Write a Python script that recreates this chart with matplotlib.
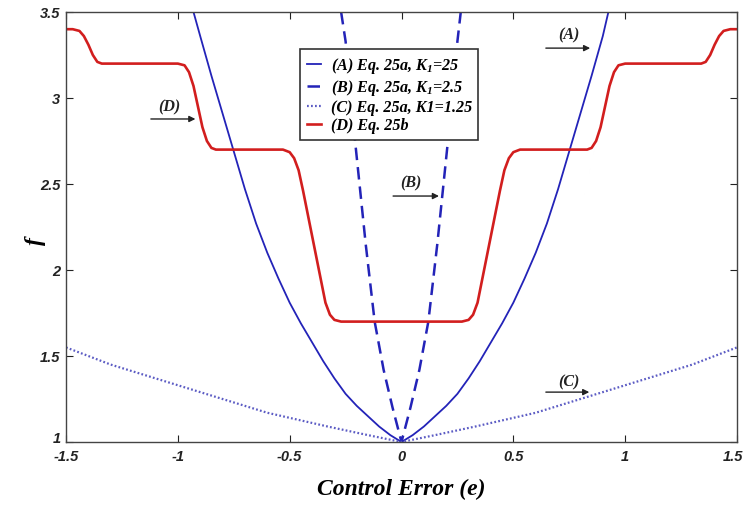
import matplotlib
matplotlib.use("Agg")
import matplotlib.pyplot as plt
from matplotlib.transforms import ScaledTranslation

plt.rcParams['mathtext.fontset'] = 'custom'
plt.rcParams['mathtext.it'] = 'Liberation Serif:italic:bold'
plt.rcParams['mathtext.rm'] = 'Liberation Serif:italic:bold'

# ---- data ----
e_A = [-0.93, -0.90, -0.85, -0.80, -0.75, -0.70, -0.65, -0.60, -0.55, -0.50, -0.45, -0.40, -0.35, -0.30, -0.25, -0.20, -0.15, -0.10, -0.05, 0.0,
       0.05, 0.10, 0.15, 0.20, 0.25, 0.30, 0.35, 0.40, 0.45, 0.50, 0.55, 0.60, 0.65, 0.70, 0.75, 0.80, 0.85, 0.90, 0.925]
f_A = [3.50, 3.36, 3.13, 2.91, 2.69, 2.47, 2.27, 2.10, 1.95, 1.81, 1.69, 1.58, 1.47, 1.37, 1.28, 1.21, 1.15, 1.09, 1.04, 1.00,
       1.04, 1.09, 1.15, 1.21, 1.28, 1.37, 1.47, 1.58, 1.69, 1.81, 1.95, 2.10, 2.27, 2.47, 2.69, 2.91, 3.13, 3.36, 3.50]

e_B = [-0.27, -0.25, -0.21, -0.16, -0.12, -0.08, -0.04, 0.0, 0.04, 0.08, 0.12, 0.16, 0.21, 0.25, 0.265]
f_B = [3.50, 3.33, 2.78, 2.15, 1.70, 1.42, 1.20, 1.00, 1.20, 1.42, 1.70, 2.15, 2.78, 3.33, 3.50]

e_C = [-1.5, -1.3, -1.1, -0.85, -0.6, -0.33, -0.15, 0.0, 0.15, 0.33, 0.6, 0.85, 1.1, 1.3, 1.5]
f_C = [1.55, 1.45, 1.37, 1.27, 1.17, 1.09, 1.04, 1.00, 1.04, 1.09, 1.17, 1.27, 1.37, 1.45, 1.55]

e_D = [-1.50, -1.47, -1.44, -1.42, -1.40, -1.38, -1.36, -1.34, -1.00, -0.97, -0.95, -0.93, -0.91, -0.89, -0.87, -0.85, -0.83,
       -0.53, -0.50, -0.48, -0.46, -0.44, -0.42, -0.40, -0.38, -0.36, -0.34, -0.32, -0.30, -0.27,
       0.27, 0.30, 0.32, 0.34, 0.36, 0.38, 0.40, 0.42, 0.44, 0.46, 0.48, 0.50, 0.53,
       0.83, 0.85, 0.87, 0.89, 0.91, 0.93, 0.95, 0.97, 1.00, 1.34, 1.36, 1.38, 1.40, 1.42, 1.44, 1.47, 1.50]
f_D = [3.40, 3.40, 3.39, 3.36, 3.31, 3.25, 3.21, 3.20, 3.20, 3.19, 3.15, 3.07, 2.95, 2.83, 2.75, 2.71, 2.70,
       2.70, 2.685, 2.65, 2.58, 2.46, 2.33, 2.20, 2.07, 1.94, 1.81, 1.74, 1.71, 1.70,
       1.70, 1.71, 1.74, 1.81, 1.94, 2.07, 2.20, 2.33, 2.46, 2.58, 2.65, 2.685, 2.70,
       2.70, 2.71, 2.75, 2.83, 2.95, 3.07, 3.15, 3.19, 3.20, 3.20, 3.21, 3.25, 3.31, 3.36, 3.39, 3.40, 3.40]

labels = [r"(A) Eq. 25a, K$_1$=25", r"(B) Eq. 25a, K$_1$=2.5", "(C) Eq. 25a, K1=1.25", "(D) Eq. 25b"]
x_ticks = [-1.5, -1, -0.5, 0, 0.5, 1, 1.5]
x_ticklabels = ["-1.5", "-1", "-0.5", "0", "0.5", "1", "1.5"]
y_ticks = [1, 1.5, 2, 2.5, 3, 3.5]
y_ticklabels = ["1", "1.5", "2", "2.5", "3", "3.5"]

# annotations: (label, label_x, label_y, tail_x, head_x, arrow_y)
annots = [("(A)", 0.75, 3.37, 0.633, 0.856, 3.29),
          ("(B)", 0.04, 2.51, -0.05, 0.18, 2.43),
          ("(C)", 0.75, 1.355, 0.633, 0.852, 1.29),
          ("(D)", -1.04, 2.95, -1.133, -0.909, 2.878)]

blue = '#2323b8'
red = '#d21e1e'

fig = plt.figure(figsize=(7.45, 5.06), dpi=100)
ax = fig.add_axes([66 / 745, 1 - 443 / 506, 671 / 745, 430 / 506])

ax.plot(e_A, f_A, color=blue, lw=1.3, label=labels[0])
ax.plot(e_B, f_B, color=blue, lw=1.8, linestyle=(0, (5, 2.8)), label=labels[1])
ax.plot(e_C, f_C, color='#5c5cc4', lw=1.6, linestyle=(0, (0.8, 1.0)), label=labels[2])
ax.plot(e_D, f_D, color=red, lw=1.9, label=labels[3])

for txt, lx, ly, tx, hx, ay in annots:
    ax.annotate("", xy=(hx, ay), xytext=(tx, ay),
                arrowprops=dict(arrowstyle='-|>', color='#222222', lw=1.0, mutation_scale=9))
    ax.text(lx, ly, txt, ha='center', va='center', fontsize=11.5,
            family='Liberation Serif', fontweight='bold', fontstyle='italic', color='#222222')

ax.set_xlim(-1.5, 1.5)
ax.set_ylim(1, 3.5)
ax.set_xticks(x_ticks)
ax.set_xticklabels(x_ticklabels)
ax.set_yticks(y_ticks)
ax.set_yticklabels(y_ticklabels)
for lab in ax.get_xticklabels() + ax.get_yticklabels():
    lab.set_fontfamily(['Liberation Sans Narrow', 'Liberation Sans', 'DejaVu Sans'])
    lab.set_fontweight('bold')
    lab.set_fontstyle('italic')
    lab.set_fontsize(10.5)
ax.tick_params(direction='in', top=True, right=True, length=5, width=0.8, colors='#222222')
ax.tick_params(axis='x', pad=5)
ax.tick_params(axis='y', pad=4)
# lift the bottom y label slightly (as in the reference)
ylabs = ax.get_yticklabels()
ylabs[0].set_transform(ylabs[0].get_transform() + ScaledTranslation(0, 4 / 72, fig.dpi_scale_trans))
# keep the last x label inside the figure
xlabs = ax.get_xticklabels()
xlabs[-1].set_transform(xlabs[-1].get_transform() + ScaledTranslation(-3 / 72, 0, fig.dpi_scale_trans))

for s in ax.spines.values():
    s.set_color('#444444')
    s.set_linewidth(1.0)

ax.set_xlabel("Control Error (e)", family='Liberation Serif', fontweight='bold',
              fontstyle='italic', fontsize=17, labelpad=11)
ax.set_ylabel("f", family='Liberation Serif', fontweight='bold',
              fontstyle='italic', fontsize=17, rotation=90)
ax.yaxis.set_label_coords(-0.03, 0.47)

leg = ax.legend(loc='upper left', bbox_to_anchor=(0.349, 0.914), borderaxespad=0,
                handlelength=0.9, handletextpad=0.6, borderpad=0.4, labelspacing=0.12,
                fancybox=False, framealpha=1, edgecolor='#333333',
                prop=dict(family='Liberation Serif', weight='bold', style='italic', size=11.6))
leg.get_frame().set_linewidth(1.2)

fig.savefig("out.png", dpi=100)
